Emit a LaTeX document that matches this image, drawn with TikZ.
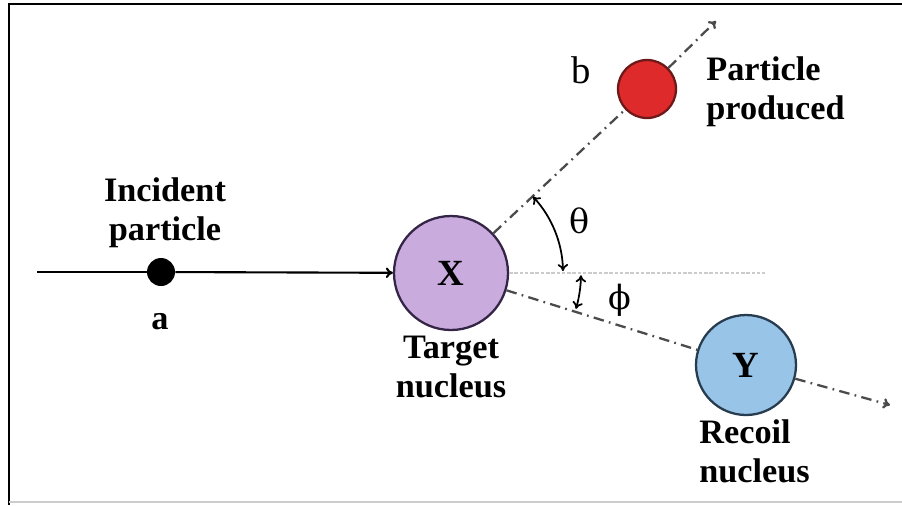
\documentclass[tikz,border=0pt]{standalone}
\usepackage{fontspec}
\setmainfont{Liberation Serif}
\newfontfamily\greekfont{DejaVu Serif}
\usetikzlibrary{arrows.meta,calc,positioning}
\definecolor{xfill}{RGB}{201,171,222}
\definecolor{xedge}{RGB}{52,36,70}
\definecolor{yfill}{RGB}{152,196,232}
\definecolor{yedge}{RGB}{40,60,80}
\definecolor{bfill}{RGB}{222,42,42}
\definecolor{bedge}{RGB}{110,25,25}
\definecolor{trackgray}{RGB}{75,75,75}
\tikzset{>={To[length=4pt,width=6pt]}}
\tikzset{
  nucleus/.style={circle, draw=#1, line width=1.3pt, inner sep=0pt},
  lbl/.style={font=\fontsize{19.5}{22}\selectfont\bfseries, align=center, inner sep=0pt},
  track/.style={trackgray, line width=1.3pt, dash pattern=on 6pt off 3pt on 1pt off 3pt},
  refline/.style={gray!40, line width=1.1pt, dash pattern=on 2pt off 1pt},
  anglearc/.style={<->, black, line width=1pt},
}
\begin{document}
\begin{tikzpicture}[x=0.02cm, y=0.02cm]
  \useasboundingbox (0,0) rectangle (902,-505);
  % frame
  \draw[line width=1.2pt] (9,-505) -- (9,-4) -- (902,-4);
  \draw[gray!40, line width=1pt] (9,-502) -- (902,-502);

  % nuclei and particles
  \node[nucleus=xedge, fill=xfill, minimum size=2.28cm] (X) at (451,-273)
    {\fontsize{21}{21}\selectfont\bfseries X};
  \node[nucleus=yedge, fill=yfill, minimum size=2cm] (Y) at (746,-365)
    {\fontsize{21}{21}\selectfont\bfseries Y};
  \node[nucleus=bedge, fill=bfill, minimum size=1.16cm] (b) at (647,-89) {};
  \node[circle, fill=black, inner sep=0pt, minimum size=0.56cm] (a) at (161,-272) {};

  \coordinate (start) at (37,-272);
  \coordinate (bEnd) at (716,-21);
  \coordinate (yEnd) at (890,-405);
  \coordinate (hEnd) at (765,-273);

  % tracks
  \draw[line width=1.2pt] (start) -- (a);
  \draw[->, line width=1.2pt] (a) -- (X);
  \draw[refline] (X.east) -- (hEnd);
  \draw[track] (X) -- (b);
  \draw[track, ->] (b) -- (bEnd);
  \draw[track] (X) -- (Y);
  \draw[track, ->] (Y) -- (yEnd);

  % angles
  \draw[anglearc] ($(X.center)+(43:2.24cm)$) arc[start angle=43, end angle=1, radius=2.24cm];
  \draw[anglearc] ($(X.center)+(-1:2.6cm)$) arc[start angle=-1, end angle=-16, radius=2.6cm];
  \node[inner sep=0pt, font=\fontsize{19}{19}\selectfont\greekfont] (theta) at (580,-221) {θ};
  \node[inner sep=0pt, font=\fontsize{19}{19}\selectfont\greekfont] (phi) at (620,-300) {ϕ};

  % labels
  \node[lbl] (lblA) at (165,-213) {Incident\\particle};
  \node[lbl] (nameA) at (160,-322) {a};
  \node[lbl] (lblX) at (451,-367) {Target\\nucleus};
  \node[inner sep=0pt, font=\fontsize{22}{22}\selectfont] (nameB) at (581,-70) {b};
  \node[lbl, anchor=west, align=left] (lblB) at (706,-92) {Particle\\produced};
  \node[lbl, anchor=west, align=left] (lblY) at (699,-451) {Recoil\\nucleus};
\end{tikzpicture}
\end{document}
